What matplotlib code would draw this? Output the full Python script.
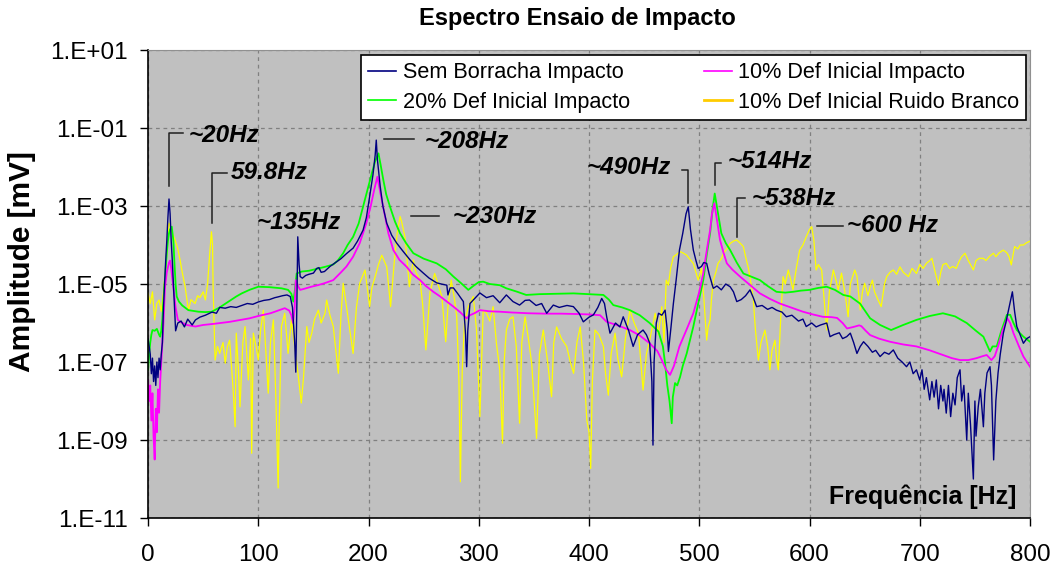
import matplotlib
matplotlib.use("Agg")
import matplotlib.pyplot as plt
from matplotlib.lines import Line2D
from matplotlib.ticker import FixedLocator, FuncFormatter
import numpy as np

plt.rcParams['font.family'] = ['Liberation Sans', 'DejaVu Sans']

# frequency [Hz] and log10(amplitude [mV])
sem_f = [0, 2, 3, 4, 5, 6, 7, 8, 9, 10, 11, 12, 13, 14, 15, 16, 17, 18, 19, 20,
         21, 22, 23, 24, 25, 27, 30, 33, 36, 40, 43, 47, 52, 58, 62, 65, 70, 75, 80, 85,
         90, 95, 100, 105, 110, 115, 118, 122, 126, 129, 131, 133, 134, 135, 135.8, 137, 138, 140, 143, 146,
         150, 153, 155, 157, 160, 165, 170, 175, 180, 186, 190, 195, 198, 201, 204, 206, 207, 208, 210.6, 213,
         216.5, 221, 225.5, 231, 237.6, 243, 249.7, 255, 261.8, 266, 271, 272, 274, 277, 281, 286, 288, 289, 290, 292,
         295, 301, 307, 313, 319, 325, 331, 337, 342, 346, 352, 357, 361.6, 367.6, 373, 380, 385.8, 391, 394.8, 400,
         404, 408, 411.5, 414, 416, 419, 424, 428, 431, 436, 440, 444, 449, 452, 455, 457, 458, 459, 461, 463,
         466, 469, 471, 472, 474, 476.5, 479, 482, 485, 488, 490, 492, 494.6, 497, 499, 502, 504, 506.7, 509, 512.7,
         516, 520, 524, 528, 531, 534, 538, 542, 546, 549, 552, 557, 562, 566, 570, 575, 579, 584, 590, 594,
         597, 602, 606, 610, 615.6, 618.6, 622, 627, 630, 633.7, 637, 640, 643, 646, 649, 653, 657, 660, 664, 668,
         672, 676, 680, 684, 688, 691, 694, 697, 700, 702, 704, 706, 709, 711, 713, 715, 717, 719, 721, 722,
         724, 726, 728, 730, 732, 734, 736.5, 738, 740, 742.6, 744, 746, 748.6, 750, 751, 753, 755, 757.7, 759, 761,
         763.7, 765, 766, 767, 769, 771, 773, 775.8, 778, 781, 784, 786, 788, 791, 794, 797, 800]
sem_log = [-6.4, -6.8, -7.3, -6.9, -7.5, -7.1, -7.6, -7.0, -7.4, -6.9, -7.2, -6.8, -6.5, -5.6, -5.0, -4.4, -3.9, -3.3, -2.82, -3.2,
           -3.9, -4.4, -5.0, -5.6, -6.2, -6.0, -5.95, -6.1, -5.9, -6.05, -5.92, -5.85, -5.8, -5.72, -5.75, -5.6, -5.62, -5.58, -5.6, -5.55,
           -5.5, -5.52, -5.46, -5.42, -5.4, -5.35, -5.33, -5.3, -5.28, -5.32, -5.6, -6.5, -7.26, -5.5, -3.79, -4.5, -4.81, -4.85, -4.78, -4.75,
           -4.72, -4.6, -4.58, -4.7, -4.68, -4.55, -4.45, -4.35, -4.22, -4.08, -3.9, -3.62, -3.3, -2.76, -2.2, -1.7, -1.31, -1.8, -2.5, -3.0,
           -3.44, -3.75, -3.95, -4.15, -4.38, -4.55, -4.72, -4.85, -4.97, -5.0, -5.03, -5.28, -5.1, -5.1, -5.25, -5.45, -6.3, -7.12, -6.2, -5.5,
           -5.41, -5.23, -5.35, -5.3, -5.48, -5.28, -5.45, -5.54, -5.42, -5.41, -5.55, -5.5, -5.75, -5.54, -5.6, -5.55, -5.58, -5.75, -5.97, -5.85,
           -5.79, -5.6, -5.37, -5.5, -5.84, -6.26, -6.0, -6.1, -5.84, -6.2, -6.6, -6.3, -6.18, -6.3, -6.51, -7.5, -9.13, -7.0, -6.0, -5.75,
           -5.8, -5.67, -6.2, -6.73, -6.2, -5.5, -4.9, -4.13, -3.7, -3.2, -3.02, -3.6, -4.13, -4.4, -4.6, -4.55, -4.45, -4.47, -4.75, -5.11,
           -5.05, -5.15, -5.0, -5.07, -5.2, -5.45, -5.4, -5.3, -5.15, -5.35, -5.58, -5.55, -5.65, -5.6, -5.67, -5.72, -5.84, -5.8, -5.95, -5.9,
           -6.09, -6.0, -6.1, -6.05, -6.0, -6.35, -6.3, -6.25, -6.4, -6.35, -6.26, -6.5, -6.78, -6.6, -6.48, -6.6, -6.75, -6.7, -6.86, -6.75,
           -6.8, -6.69, -6.9, -7.0, -7.12, -7.0, -7.3, -7.2, -7.46, -7.2, -7.7, -7.4, -7.97, -7.5, -7.9, -7.46, -8.2, -7.6, -8.0, -7.7,
           -8.31, -7.6, -8.4, -7.8, -8.1, -7.4, -7.2, -8.0, -7.6, -9.0, -7.8, -8.6, -10.0, -8.0, -8.9, -8.15, -7.7, -8.66, -7.8, -7.28,
           -7.12, -7.6, -8.6, -9.51, -8.0, -7.28, -6.8, -6.26, -6.0, -5.6, -5.2, -5.7, -6.09, -6.3, -6.52, -6.4, -6.35]

def10_f = [0, 1, 2, 3, 4, 5, 6, 7, 8, 9, 10, 11, 12, 13, 14, 15.4, 17, 19, 20, 21,
           23, 25, 27, 30, 35, 43, 50, 60, 74, 92, 100, 111, 118, 124, 128, 130, 131.5, 133, 134, 136,
           138, 142, 148, 154, 160, 168, 175, 180, 186, 192, 198, 202, 205, 208, 211, 215, 218, 222.5, 228, 234.6,
           240, 246.7, 252, 258.8, 265, 271, 277, 283, 289, 292, 296, 301, 310, 319, 330, 345, 360, 375, 390, 400,
           410, 416, 425, 437, 446, 455, 462, 466, 470, 473.5, 477, 482, 488, 494.6, 500, 503.6, 507, 509.8, 511.5, 513.6,
           516, 518.8, 522, 525, 530, 537, 545, 555, 564, 573, 583, 594, 603, 612, 620, 625, 630, 634, 640, 645,
           647, 651, 655, 663, 673, 685, 697, 709, 721, 729, 736.5, 744, 751.6, 757, 760.7, 765, 768, 771, 775, 779.4,
           782, 785, 790, 794, 800]
def10_log = [-7.46, -8.0, -7.6, -8.5, -7.8, -8.9, -9.5, -8.2, -8.8, -7.7, -8.3, -7.5, -7.0, -6.5, -6.0, -5.07, -4.7, -4.45, -4.4, -4.6,
             -5.1, -5.6, -5.92, -5.98, -6.05, -6.09, -6.05, -6.02, -5.97, -5.88, -5.82, -5.75, -5.68, -5.62, -5.68, -5.8, -6.0, -5.6, -4.9, -5.05,
             -5.15, -5.12, -5.07, -5.03, -4.98, -4.9, -4.7, -4.55, -4.3, -3.95, -3.44, -3.0, -2.6, -2.25, -2.7, -3.27, -3.7, -4.13, -4.38, -4.56,
             -4.75, -4.9, -5.05, -5.2, -5.32, -5.45, -5.58, -5.72, -5.88, -5.8, -5.75, -5.67, -5.7, -5.71, -5.73, -5.75, -5.76, -5.76, -5.77, -5.78,
             -5.8, -5.97, -6.05, -6.18, -6.32, -6.52, -6.72, -6.95, -7.2, -7.33, -7.1, -6.6, -6.2, -5.75, -5.2, -4.73, -4.1, -3.62, -3.2, -2.93,
             -3.35, -3.87, -4.2, -4.47, -4.63, -4.81, -5.0, -5.24, -5.38, -5.5, -5.6, -5.71, -5.78, -5.84, -5.85, -5.87, -6.0, -6.14, -6.1, -6.06,
             -6.08, -6.2, -6.31, -6.4, -6.48, -6.55, -6.6, -6.7, -6.82, -6.9, -6.95, -6.95, -6.9, -6.85, -6.82, -6.95, -6.85, -6.6, -6.2, -5.88,
             -6.0, -6.26, -6.6, -6.86, -7.12]

def20_f = [0, 1, 2, 3, 4, 6, 8, 10, 11, 12, 13, 14, 15, 16, 17, 18, 19, 20, 21.5, 23,
           24, 25, 26, 28, 31, 36.6, 45.6, 52, 57.8, 65, 73, 80, 85, 92, 100, 110, 121, 127, 130, 131.8,
           133, 134.8, 139.4, 146, 154.5, 160.5, 168, 172, 177, 181, 186, 191, 195, 199, 203, 206, 209, 211, 213.4, 216,
           219.5, 224, 228.6, 234, 240.6, 250, 261.8, 270, 277, 284, 290.5, 295, 300, 304, 310, 319, 325, 335, 343, 355,
           370, 386, 400, 413, 418, 422, 430, 437, 446, 455, 463, 467, 469, 471, 473, 475, 476, 478, 480, 482.6,
           485, 488.6, 491, 494.6, 499, 503.6, 507, 509.8, 512, 514, 516.5, 520, 524, 528, 534, 540, 548, 555, 562, 570,
           578, 585, 592, 600, 608, 615.6, 623, 630.6, 637, 645.8, 655, 664, 674, 685, 697, 709, 721, 732, 742.6, 751,
           757.7, 763.7, 766, 769.8, 774, 779, 782, 785, 788, 794, 800]
def20_log = [-7.2, -6.8, -6.5, -6.3, -6.18, -6.2, -6.15, -6.3, -6.35, -6.2, -5.9, -5.4, -5.0, -4.6, -4.2, -3.9, -3.7, -3.6, -3.53, -3.9,
             -4.5, -5.0, -5.32, -5.45, -5.55, -5.67, -5.71, -5.72, -5.71, -5.6, -5.45, -5.32, -5.24, -5.15, -5.07, -5.08, -5.11, -5.15, -5.25, -5.45,
             -5.2, -4.73, -4.68, -4.66, -4.6, -4.56, -4.5, -4.4, -4.21, -4.0, -3.79, -3.45, -3.02, -2.6, -2.16, -1.85, -1.65, -1.95, -2.33, -2.7,
             -3.02, -3.4, -3.7, -3.95, -4.21, -4.35, -4.47, -4.62, -4.81, -4.98, -5.15, -5.05, -4.95, -4.94, -5.0, -5.03, -5.11, -5.2, -5.28, -5.26,
             -5.25, -5.24, -5.26, -5.28, -5.4, -5.54, -5.6, -5.67, -5.8, -6.0, -6.22, -6.6, -7.04, -7.6, -8.0, -8.57, -7.9, -7.54, -7.6, -7.38,
             -7.1, -6.78, -6.5, -6.09, -5.5, -4.9, -4.2, -3.7, -3.1, -2.68, -3.1, -3.7, -3.95, -4.13, -4.45, -4.73, -4.82, -4.9, -5.05, -5.2,
             -5.22, -5.2, -5.17, -5.15, -5.1, -5.07, -5.15, -5.28, -5.32, -5.5, -5.88, -6.05, -6.18, -6.05, -5.92, -5.82, -5.75, -5.83, -6.0, -6.2,
             -6.35, -6.73, -6.6, -6.6, -6.2, -5.79, -5.79, -6.0, -6.18, -6.35, -6.48]

ruido_f = [0, 2, 4, 6, 8, 10, 12, 14, 15, 17, 19, 20, 22, 24.5, 27, 29, 31, 33.6, 36.6, 39,
           42.6, 45, 47, 50, 52, 54, 56, 57.5, 58.5, 59, 60.8, 63, 65, 68, 70, 72, 74, 77, 79, 80,
           82, 83.4, 86, 88, 91, 93, 94, 95.5, 98, 100, 102, 104.6, 107, 109, 111, 113.7, 116, 118, 119, 121,
           124, 127, 130, 133, 136, 139, 141, 144, 146, 148.5, 151, 154.5, 157, 160.5, 162, 165, 168, 172.6, 175, 177,
           181.7, 186, 189, 192, 196.8, 201, 203, 206, 209, 212, 216.5, 220, 224, 226, 228.6, 230, 233, 235, 237, 240.6,
           243, 246.7, 249, 252, 255.8, 260, 263, 266.5, 270, 272, 275, 278, 280, 282, 283.3, 285, 287, 290.5, 295, 298,
           300, 301, 304, 307, 310, 313, 316, 319, 321.5, 323, 325, 328, 331, 334, 337, 339, 342, 345, 348, 350,
           352.4, 355, 358.5, 362, 366, 368, 370.6, 375, 379.7, 383, 386, 389, 392, 395, 398, 400, 401.5, 403, 405.4, 409,
           413, 415, 417.5, 420, 423.6, 426, 429.6, 433, 437, 441, 444.8, 447, 449, 452, 455, 460, 463, 466, 468, 470,
           472, 474, 476.5, 479, 482.6, 485, 488.6, 491, 494.6, 499, 502, 504, 506.7, 508, 509.8, 511, 512.8, 515, 517, 520,
           522, 525, 528, 531, 534, 537, 540, 542, 544.6, 547, 549, 551, 553.6, 556, 559.6, 562, 564, 566, 568.7, 570,
           571.7, 574, 576, 578, 580.7, 583, 585, 588, 591, 594, 597, 600, 602, 604, 606, 608, 611, 613, 615.6, 618,
           621.6, 624, 626, 629, 632, 635, 637, 640, 641, 643, 646, 648, 650, 653, 655, 657, 659, 662, 665, 668,
           670, 673, 676, 679, 682, 685, 689.7, 693, 697, 700, 703, 706, 709, 711, 714, 717, 719, 721, 724, 727,
           730, 733, 736, 738, 741, 744, 746, 748.6, 751, 754, 757.7, 760, 763, 766.8, 769, 772, 775.8, 779, 781, 783,
           785, 786, 789, 791, 794, 797, 800]
ruido_log = [-5.23, -5.5, -5.2, -5.92, -5.5, -5.41, -5.7, -5.2, -4.9, -4.2, -3.44, -3.5, -3.7, -3.87, -4.1, -4.38, -4.7, -5.07, -5.67, -5.4,
             -5.5, -5.3, -5.35, -5.2, -5.41, -5.0, -4.2, -3.66, -4.0, -5.07, -6.95, -6.6, -6.78, -6.5, -7.03, -6.6, -6.44, -7.63, -8.66, -6.26,
             -7.2, -8.15, -6.5, -6.09, -7.46, -6.4, -9.34, -6.26, -6.6, -6.95, -6.2, -5.67, -6.8, -7.8, -6.5, -5.92, -8.0, -10.23, -8.5, -6.09,
             -5.75, -6.78, -5.92, -6.6, -7.29, -8.05, -7.4, -6.09, -6.5, -6.26, -5.9, -5.67, -6.0, -5.75, -5.41, -5.8, -6.09, -7.29, -5.8, -4.98,
             -5.92, -6.78, -5.6, -4.98, -4.64, -5.58, -5.1, -4.81, -4.5, -4.26, -4.56, -5.58, -4.21, -3.7, -3.27, -3.4, -3.79, -4.4, -5.07, -4.38,
             -4.7, -4.9, -5.5, -6.69, -5.2, -4.73, -5.0, -5.32, -6.48, -5.6, -4.9, -5.4, -5.84, -7.5, -10.07, -7.2, -6.0, -5.58, -5.32, -6.2,
             -7.63, -8.4, -5.67, -5.75, -5.95, -5.58, -6.52, -7.2, -9.08, -7.0, -6.18, -5.9, -5.84, -6.6, -8.57, -6.5, -5.84, -6.4, -7.04, -7.9,
             -8.96, -6.8, -6.18, -6.9, -7.89, -6.5, -6.1, -6.4, -6.6, -7.0, -7.29, -6.5, -6.1, -7.0, -8.49, -8.8, -9.73, -7.5, -6.18, -6.3,
             -6.6, -7.3, -7.85, -6.8, -6.26, -6.9, -7.38, -6.4, -5.67, -6.0, -6.26, -7.0, -7.72, -6.8, -6.44, -5.75, -6.3, -5.58, -6.5, -4.9,
             -5.03, -4.6, -4.3, -4.25, -4.17, -4.2, -4.26, -4.35, -4.47, -4.9, -4.6, -5.3, -6.44, -6.1, -5.92, -5.4, -4.9, -4.7, -4.47, -4.35,
             -4.21, -4.1, -3.96, -3.9, -3.87, -3.95, -4.04, -4.3, -4.6, -5.0, -5.41, -6.2, -6.95, -6.5, -6.18, -6.6, -7.2, -6.7, -6.44, -6.9,
             -7.2, -5.8, -4.81, -5.0, -4.64, -4.9, -5.15, -4.6, -4.13, -4.0, -3.79, -3.6, -3.53, -3.9, -4.64, -4.5, -4.64, -5.3, -6.18, -5.2,
             -4.64, -4.9, -5.15, -4.72, -5.2, -5.84, -5.0, -4.73, -4.64, -4.8, -5.67, -5.2, -4.98, -5.3, -5.07, -4.9, -5.2, -5.4, -5.58, -5.0,
             -4.81, -4.7, -4.64, -4.75, -4.56, -4.7, -4.81, -4.6, -4.73, -4.5, -4.6, -4.47, -4.4, -4.34, -4.7, -5.03, -4.7, -4.5, -4.47, -4.6,
             -4.55, -4.6, -4.4, -4.3, -4.21, -4.4, -4.5, -4.64, -4.4, -4.34, -4.34, -4.4, -4.3, -4.21, -4.3, -4.2, -4.13, -4.2, -4.3, -4.51,
             -4.2, -4.04, -4.1, -4.0, -4.0, -3.94, -3.9]

labels = ["Sem Borracha Impacto", "10% Def Inicial Impacto",
          "20% Def Inicial Impacto", "10% Def Inicial Ruido Branco"]

# peak notes: text, text x, text log-y, leader path (x list, log-y list)
notes = [("~20Hz", 37, -1.18, [19, 19, 31.7], [-2.49, -1.13, -1.13]),
         ("59.8Hz", 75, -2.15, [57.8, 57.8, 71.3], [-3.44, -2.16, -2.16]),
         ("~135Hz", 98.5, -3.43, None, None),
         ("~208Hz", 251, -1.35, [214.4, 241.3], [-1.29, -1.29]),
         ("~230Hz", 276, -3.27, [238.5, 264], [-3.25, -3.25]),
         ("~490Hz", 398, -2.02, [484.5, 490, 490], [-2.08, -2.08, -2.93]),
         ("~514Hz", 526, -1.86, [514.3, 514.3, 520], [-2.46, -1.89, -1.89]),
         ("~538Hz", 547.5, -2.8, [534, 534, 541.5], [-3.79, -2.8, -2.8]),
         ("~600 Hz", 633.6, -3.49, [607, 630], [-3.5, -3.5])]

fig = plt.figure(figsize=(10.56, 5.69), dpi=100)
ax = fig.add_axes([0.1402, 0.0896, 0.8352, 0.8225])
ax.set_facecolor('#C0C0C0')

ln_r, = ax.plot(ruido_f, np.power(10.0, ruido_log), color='#FFFF00', lw=0.9)
ln_20, = ax.plot(def20_f, np.power(10.0, def20_log), color='#00FF00', lw=1.3)
ln_10, = ax.plot(def10_f, np.power(10.0, def10_log), color='#FF00FF', lw=1.3)
ln_s, = ax.plot(sem_f, np.power(10.0, sem_log), color='#000080', lw=1.0)

ax.set_yscale('log')
ax.set_xlim(0, 800)
ax.set_ylim(1e-11, 1e1)
ax.yaxis.set_major_locator(FixedLocator([10.0 ** e for e in range(-11, 2, 2)]))
ax.yaxis.set_minor_locator(FixedLocator([]))
ax.yaxis.set_major_formatter(FuncFormatter(lambda v, p: "1.E%+03d" % round(np.log10(v))))
ax.set_xticks(range(0, 801, 100))
ax.grid(True, color='#808080', ls=(0, (3, 3)), lw=0.9)
ax.tick_params(axis='y', direction='out', length=6, width=1, labelsize=17.5, pad=8.5)
ax.tick_params(axis='x', direction='out', length=6, width=1, labelsize=17.5, pad=12.5)
for s in ('top', 'right'):
    ax.spines[s].set_color('#909090')
for s in ('left', 'bottom'):
    ax.spines[s].set_color('black')
    ax.spines[s].set_linewidth(1.2)

for txt, tx, ty, lx, ly in notes:
    ax.text(tx, 10.0 ** ty, txt, fontsize=17.5, fontweight='bold', fontstyle='italic',
            ha='left', va='center')
    if lx is not None:
        ax.plot(lx, np.power(10.0, ly), color='#202020', lw=1.1)

ax.text(0.985, 0.045, "Frequência [Hz]", transform=ax.transAxes, fontsize=18,
        fontweight='bold', ha='right', va='center')
fig.text(0.021, 0.541, "Amplitude [mV]", rotation=90, fontsize=21.5, fontweight='bold',
         ha='center', va='center')
fig.text(0.547, 0.968, "Espectro Ensaio de Impacto", fontsize=17, fontweight='bold',
         ha='center', va='center')

handles = [Line2D([], [], color='#000080', lw=1.2), Line2D([], [], color='#00FF00', lw=1.2),
           Line2D([], [], color='#FF00FF', lw=1.2), Line2D([], [], color='#FFCC00', lw=2)]
leg = ax.legend(handles, [labels[0], labels[2], labels[1], labels[3]], ncol=2,
                loc='upper right', bbox_to_anchor=(0.996, 0.989), fontsize=15.6,
                frameon=True, fancybox=False, borderaxespad=0, handlelength=1.3,
                handletextpad=0.3, columnspacing=3.4, labelspacing=0.4, borderpad=0.32)
leg.get_frame().set_edgecolor('black')
leg.get_frame().set_linewidth(1.2)
leg.get_frame().set_facecolor('white')
leg.get_frame().set_alpha(1)

fig.savefig("out.png", dpi=100, facecolor='white')
